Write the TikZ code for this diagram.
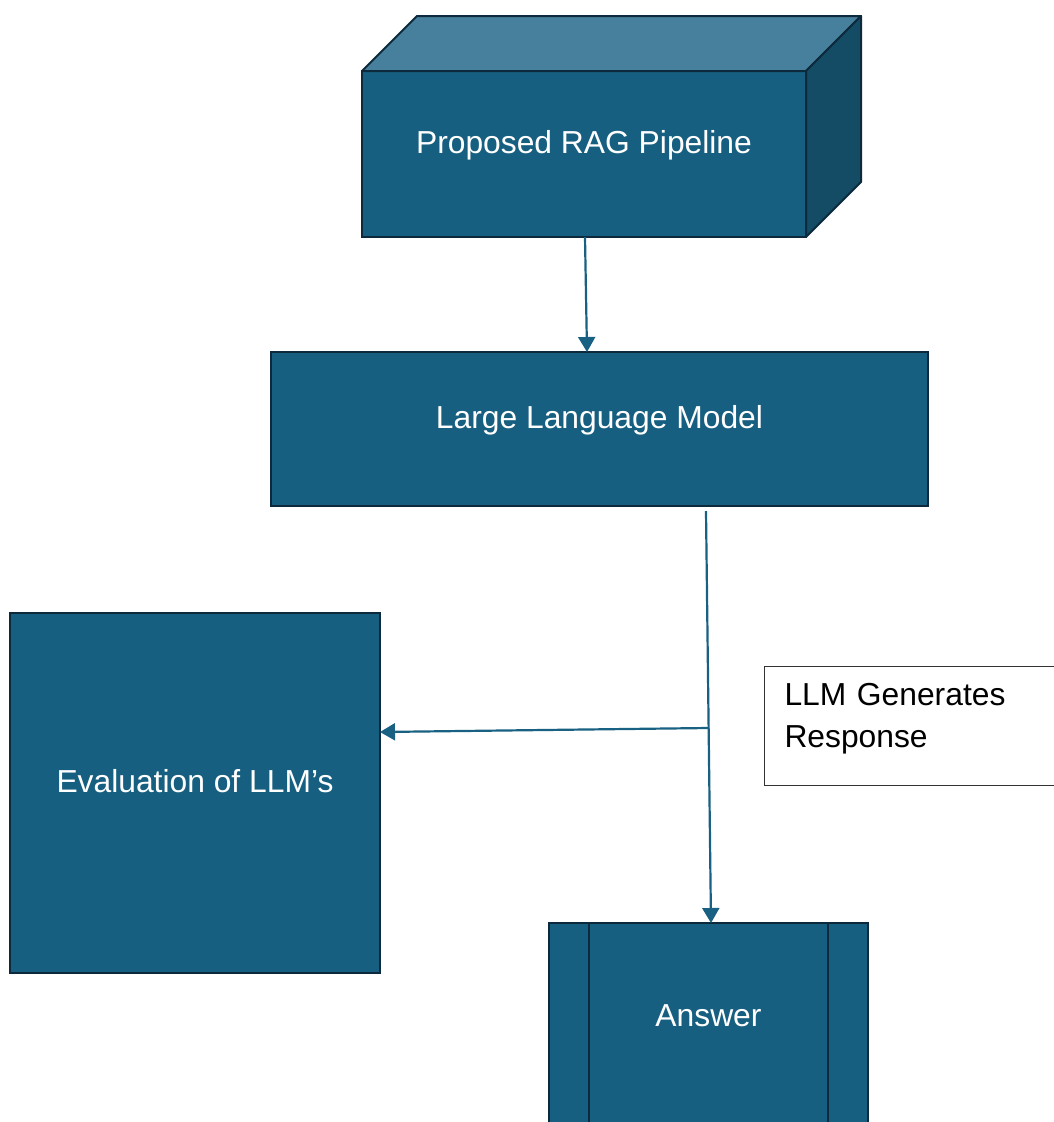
\documentclass[tikz,border=0pt]{standalone}
\usepackage{fontspec}
\setmainfont{Liberation Sans}
\usetikzlibrary{arrows.meta}
\definecolor{boxfill}{RGB}{23,95,128}
\definecolor{boxline}{RGB}{12,42,60}
\definecolor{topface}{RGB}{71,128,157}
\definecolor{sideface}{RGB}{20,75,101}
\definecolor{arrowc}{RGB}{25,97,130}
\begin{document}
\begin{tikzpicture}[x=1pt,y=-1pt,
  box/.style={draw=boxline, line width=2pt, fill=boxfill, text=white,
    inner sep=0pt, outer sep=0pt, font=\fontsize{31.8}{38}\selectfont},
  face/.style={draw=boxline, line width=2pt, line join=round},
  conn/.style={draw=arrowc, line width=2.2pt, -{Triangle[width=17pt,length=15pt]}}]
\useasboundingbox (0,0) rectangle (1054,1122);
\clip (0,0) rectangle (1054,1122);
% cube
\node[box, minimum width=444pt, text height=82pt, text depth=84pt] (cube) at (584,154) {Proposed RAG Pipeline};
\draw[face, fill=topface] (cube.north west) -- ++(55,-55) -- ++(444,0) -- (cube.north east) -- cycle;
\draw[face, fill=sideface] (cube.north east) -- ++(55,-55) -- ++(0,166) -- (cube.south east) -- cycle;
% LLM
\node[box, minimum width=657pt, text height=76pt, text depth=78pt] (llm) at (599.5,429) {Large Language Model};
% Evaluation
\node[box, minimum width=370pt, text height=179pt, text depth=181pt] (ev) at (195,793) {Evaluation of LLM’s};
% Answer
\node[box, minimum width=319pt, text height=103pt, text depth=107pt] (ans) at (708.5,1028) {Answer};
\draw[draw=boxline, line width=2pt] ([xshift=40pt]ans.north west) -- ([xshift=40pt]ans.south west);
\draw[draw=boxline, line width=2pt] ([xshift=-40pt]ans.north east) -- ([xshift=-40pt]ans.south east);
% label
\node[draw=black!80, line width=1pt, anchor=north west, align=left, text width=258pt,
  inner xsep=20pt, inner ysep=0pt, text height=39pt, text depth=80pt,
  font=\fontsize{31.8}{42}\selectfont] (lbl) at (764,666) {LLM Generates\\Response};
% connectors
\draw[conn] ([xshift=1pt]cube.south) -- ([xshift=-12.5pt]llm.north);
\coordinate (vs) at (706,511);
\coordinate (br) at (708.5,728);
\draw[conn] (vs) -- ([xshift=2.5pt]ans.north);
\draw[conn] (br) -- ([yshift=61pt]ev.east);
\end{tikzpicture}
\end{document}
